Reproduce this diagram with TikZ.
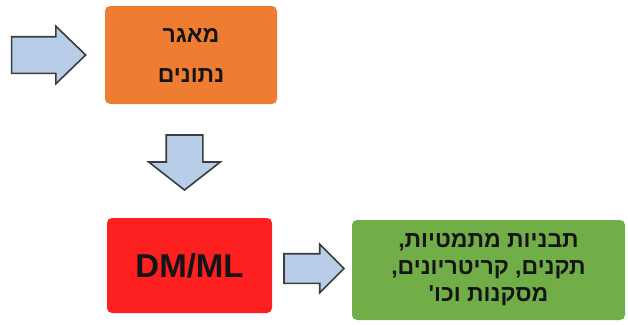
\documentclass[tikz,border=0pt]{standalone}
\usepackage{fontspec}
\setmainfont{Liberation Sans}
\newfontfamily\hebfont[Script=Hebrew]{Liberation Sans}
\TeXXeTstate=1
\usepackage{tikz}
\usetikzlibrary{positioning, shapes.arrows}

\definecolor{boxorange}{HTML}{EE7D31}
\definecolor{boxred}{HTML}{FE2020}
\definecolor{boxgreen}{HTML}{72AE48}
\definecolor{arrowfill}{HTML}{B8CDE8}
\definecolor{arrowline}{HTML}{3C3C3C}
\definecolor{textdark}{HTML}{141414}

\tikzset{
  block/.style={rounded corners=5pt, inner sep=0pt, text=textdark},
  fatarrow/.style={single arrow, draw=arrowline, fill=arrowfill, line width=1.6pt,
    inner xsep=0pt, single arrow head indent=0pt}
}

\begin{document}
\begin{tikzpicture}[x=1pt, y=-1pt]

    \useasboundingbox (0,0) rectangle (628,324);

    % Boxes
    \node (db) [block, fill=boxorange, minimum width=172pt, minimum height=98pt, align=center,
        font=\hebfont\fontsize{23}{40}\selectfont\bfseries]
        at (191,55) {\beginR מאגר\endR\\\beginR נתונים\endR};
    \node (dmml) [block, fill=boxred, minimum width=165pt, minimum height=95pt,
        font=\fontsize{33}{33}\selectfont\bfseries]
        at (189.5,265.5) {DM/ML};
    \node (result) [block, fill=boxgreen, minimum width=273pt, minimum height=100pt, align=center,
        font=\hebfont\fontsize{23}{27}\selectfont\bfseries]
        at (488.5,270) {\beginR תבניות מתמטיות,\endR\\\beginR תקנים, קריטריונים,\endR\\\beginR מסקנות וכו'\endR};

    % Block arrows
    \node (in) [fatarrow, left=18pt of db, anchor=tip, inner ysep=17.5pt,
        single arrow head extend=10.5pt, minimum height=74pt, single arrow tip angle=88] {};
    \node (down) [fatarrow, below=30pt of db, anchor=tail, xshift=-6.5pt, shape border rotate=270,
        inner xsep=17.5pt, inner ysep=17.5pt, single arrow head extend=17.5pt, minimum height=55pt,
        single arrow tip angle=104] {};
    \node (out) [fatarrow, right=11pt of dmml, anchor=tail, yshift=-3pt, inner ysep=14pt,
        single arrow head extend=9.5pt, minimum height=60pt, single arrow tip angle=90] {};

\end{tikzpicture}
\end{document}
